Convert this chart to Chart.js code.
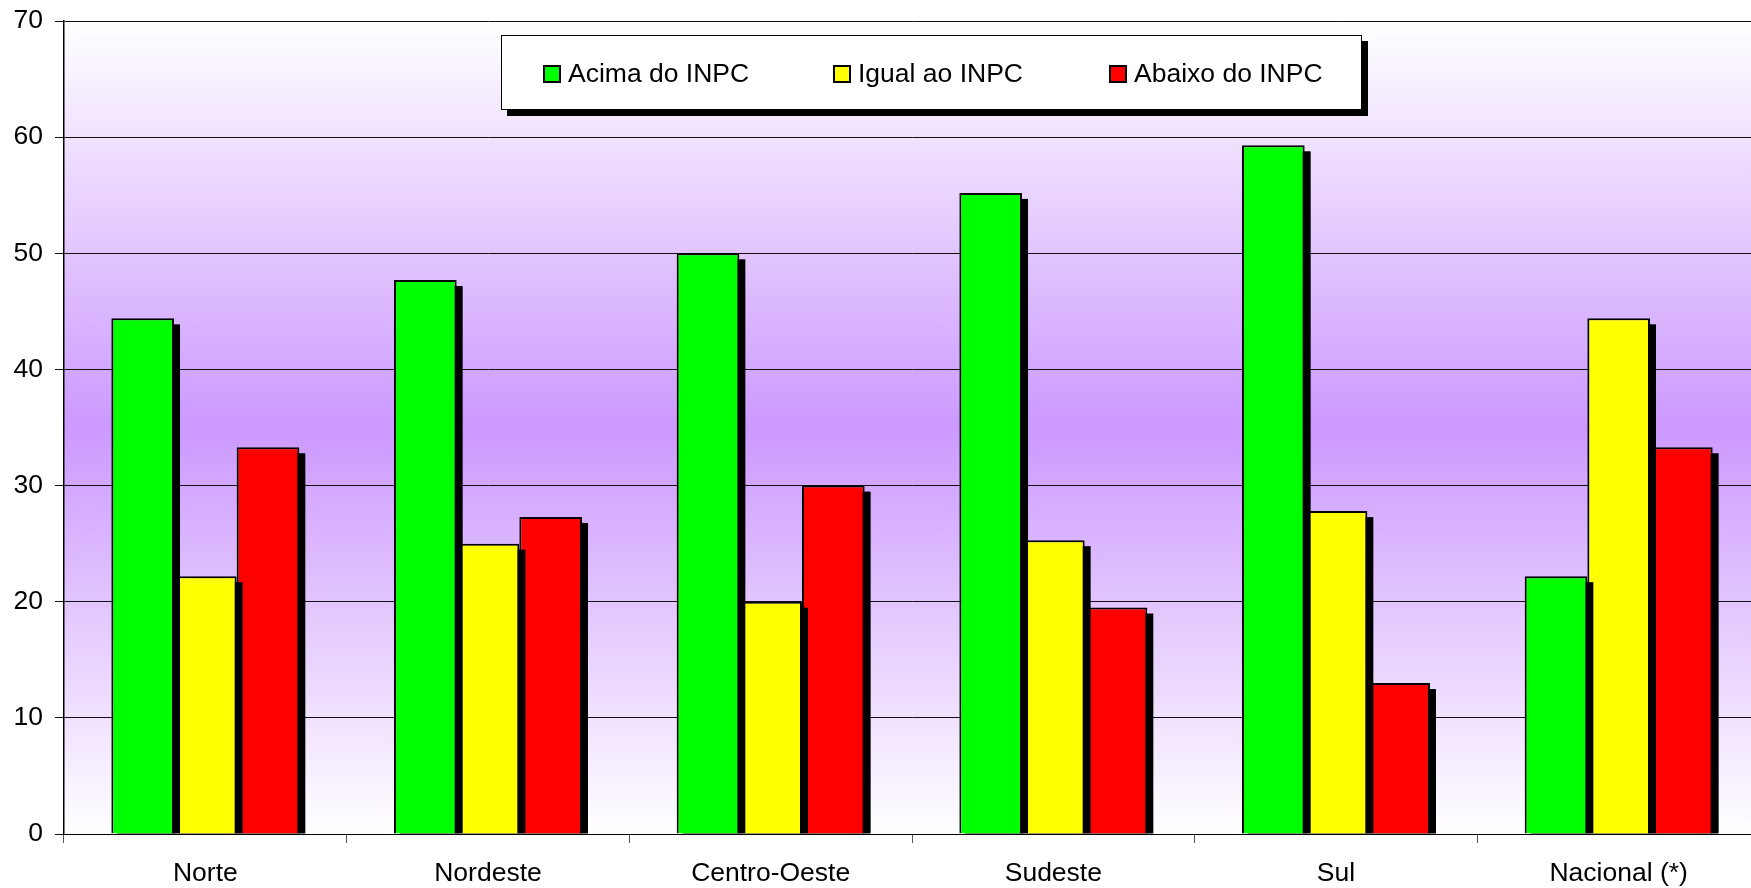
<!DOCTYPE html>
<html>
<head>
<meta charset="utf-8">
<script src="https://cdn.jsdelivr.net/npm/chart.js@4.4.1/dist/chart.umd.min.js"></script>
<style>
    html, body { margin: 0; padding: 0; background: #fff; overflow: hidden; }
    #wrap { position: relative; width: 1762px; height: 888px; }
    #legend {
        position: absolute; left: 501px; top: 35px; width: 859px; height: 73px;
        background: #fff; border: 1px solid #000; box-shadow: 6px 6px 0 #000;
        font-family: "Liberation Sans", Arial, sans-serif; font-size: 26.5px; color: #000;
    }
    #legend .sw { position: absolute; top: 29px; width: 14px; height: 14px; border: 2px solid #000; }
    #legend .txt { position: absolute; top: 24px; line-height: 26px; white-space: nowrap; }
</style>
</head>
<body>
<div id="wrap">
    <canvas id="chart" width="1762" height="888"></canvas>
    <div id="legend"></div>
</div>
<script>
// Data (percent of negotiations)
const categories = ['Norte', 'Nordeste', 'Centro-Oeste', 'Sudeste', 'Sul', 'Nacional (*)'];
const acimaInpc  = [44.4, 47.7, 50.0, 55.2, 59.3, 22.2];
const igualInpc  = [22.2, 25.0, 20.0, 25.3, 27.8, 44.4];
const abaixoInpc = [33.3, 27.3, 30.0, 19.5, 13.0, 33.3];
const seriesNames  = ['Acima do INPC', 'Igual ao INPC', 'Abaixo do INPC'];
const seriesColors = ['#00FF00', '#FFFF00', '#FF0000'];
const yMin = 0, yMax = 70, yStep = 10;

const font = { family: '"Liberation Sans", Arial, sans-serif', size: 26.5 };

// legend box (HTML, sits inside the plot like the original)
const legendX = [41, 331, 607];
const legendEl = document.getElementById('legend');
seriesNames.forEach(function(name, i) {
    const sw = document.createElement('div');
    sw.className = 'sw';
    sw.style.left = legendX[i] + 'px';
    sw.style.background = seriesColors[i];
    const t = document.createElement('div');
    t.className = 'txt';
    t.style.left = (legendX[i] + 25) + 'px';
    t.textContent = name;
    legendEl.appendChild(sw);
    legendEl.appendChild(t);
});

// purple gradient behind the plot
const plotBg = {
    id: 'plotBg',
    beforeDraw(chart) {
        const ctx = chart.ctx, a = chart.chartArea;
        const g = ctx.createLinearGradient(0, a.top, 0, a.bottom);
        g.addColorStop(0, '#ffffff');
        g.addColorStop(0.5, '#CC99FF');
        g.addColorStop(1, '#ffffff');
        ctx.save();
        ctx.fillStyle = g;
        ctx.fillRect(a.left, a.top, a.right - a.left, a.bottom - a.top);
        ctx.restore();
    }
};

// solid black drop shadow at the right of each bar
const barShadow = {
    id: 'barShadow',
    beforeDatasetDraw(chart, args) {
        const ctx = chart.ctx;
        ctx.save();
        ctx.fillStyle = '#000';
        args.meta.data.forEach(function(bar) {
            const p = bar.getProps(['x', 'y', 'base', 'width'], true);
            const top = p.y + 6;
            ctx.fillRect(p.x - p.width / 2 + 6, top, p.width, p.base - top);
        });
        ctx.restore();
    }
};

const seriesData = [acimaInpc, igualInpc, abaixoInpc];

new Chart(document.getElementById('chart').getContext('2d'), {
    type: 'bar',
    data: {
        labels: categories,
        datasets: seriesData.map(function(d, i) {
            return {
                label: seriesNames[i],
                data: d,
                backgroundColor: seriesColors[i],
                borderColor: '#000',
                borderWidth: 2,
                categoryPercentage: 0.665,
                barPercentage: 1.0
            };
        })
    },
    options: {
        responsive: false,
        animation: false,
        layout: { padding: { top: 21, right: 2, left: 0, bottom: 0 } },
        plugins: {
            legend: { display: false },
            tooltip: { enabled: false }
        },
        scales: {
            x: {
                afterFit(scale) { scale.height = 54; scale.paddingLeft = 0; scale.paddingRight = 0; },
                grid: { display: true, drawOnChartArea: false, drawTicks: true, tickLength: 9, color: '#555', offset: true },
                border: { display: true, color: '#000', width: 1 },
                ticks: { color: '#000', font: font, padding: 15, maxRotation: 0 }
            },
            y: {
                min: yMin,
                max: yMax,
                afterFit(scale) { scale.width = 64; scale.paddingTop = 0; scale.paddingBottom = 0; },
                grid: { color: '#111', lineWidth: 1, drawTicks: true, tickLength: 9 },
                border: { display: true, color: '#000', width: 1.5 },
                ticks: { stepSize: yStep, color: '#000', font: font, padding: 12 }
            }
        }
    },
    plugins: [plotBg, barShadow]
});
</script>
</body>
</html>
